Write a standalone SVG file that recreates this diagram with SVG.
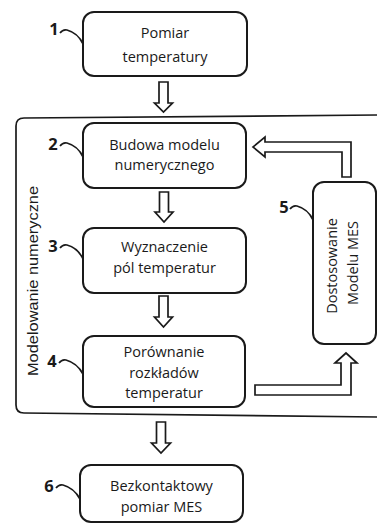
<svg xmlns="http://www.w3.org/2000/svg" width="377" height="524" viewBox="0 0 377 524">
<style>
.box{fill:#fff;stroke:#1a1a1a;stroke-width:2}
.t{font-family:"Open Sans","Noto Sans",sans-serif;font-size:14.5px;fill:#1a1a1a;text-anchor:middle}
.n{font-family:"Open Sans","Noto Sans",sans-serif;font-size:16.5px;font-weight:bold;fill:#1a1a1a;text-anchor:middle}
.hook{fill:none;stroke:#1a1a1a;stroke-width:1.7}
.arr{fill:#fff;stroke:#1a1a1a;stroke-width:1.7;stroke-linejoin:miter}
.frame{fill:none;stroke:#1a1a1a;stroke-width:1.7}
.v{font-family:"Liberation Sans",Arial,sans-serif;font-size:14px;fill:#1a1a1a;text-anchor:middle}
</style>
<rect width="377" height="524" fill="#fff"/>
<g id="frame">
<path class="frame" d="M377,115 L24,118 Q16,118 16,126 L16,405 Q16,413 24,413 L377,417"/>
<text class="v" transform="translate(37.5,281) rotate(-90)" textLength="190" lengthAdjust="spacingAndGlyphs">Modelowanie numeryczne</text>
</g>
<g id="connectors">
<polygon class="arr" points="159,82 168,82 168,103 172.5,103 163.5,112 154.5,103 159,103"/>
<polygon class="arr" points="159.5,192 168.5,192 168.5,212 173,212 164,222 155,212 159.5,212"/>
<polygon class="arr" points="159,296 168,296 168,317 172.5,317 163.5,327 154.5,317 159,317"/>
<polygon class="arr" points="156.5,422 165.5,422 165.5,443 170.5,443 161,453 151.5,443 156.5,443"/>
<polygon class="arr" points="255,385 341,385 341,363 335,363 346,353 357,363 351,363 351,395 255,395"/>
<polygon class="arr" points="351,177 342,177 342,152 265,152 265,157 253,147 265,137 265,142 351,142"/>
</g>
<g id="node1">
<rect class="box" x="83" y="12" width="164" height="64" rx="11"/>
<text class="t" x="165" y="38">Pomiar</text>
<text class="t" x="165" y="62">temperatury</text>
<text class="n" x="54" y="35">1</text>
<path class="hook" d="M60,33 Q63,29 67,30 Q78,33 83,44"/>
</g>
<g id="node2">
<rect class="box" x="83" y="123" width="163" height="65" rx="11"/>
<text class="t" x="164.5" y="150">Budowa modelu</text>
<text class="t" x="164.5" y="170">numerycznego</text>
<text class="n" x="53" y="150">2</text>
<path class="hook" d="M60,146 Q63,142 67,143 Q78,146 83,157"/>
</g>
<g id="node3">
<rect class="box" x="83" y="228" width="163" height="65" rx="11"/>
<text class="t" x="164.5" y="252">Wyznaczenie</text>
<text class="t" x="164.5" y="273">pól temperatur</text>
<text class="n" x="53" y="252">3</text>
<path class="hook" d="M60,248 Q63,244 67,245 Q78,248 83,259"/>
</g>
<g id="node4">
<rect class="box" x="83" y="336" width="162" height="71" rx="11"/>
<text class="t" x="164" y="357">Porównanie</text>
<text class="t" x="164" y="378">rozkładów</text>
<text class="t" x="164" y="398">temperatur</text>
<text class="n" x="52" y="367">4</text>
<path class="hook" d="M59,363 Q62,359 66,360 Q77,363 83,374"/>
</g>
<g id="node5">
<rect class="box" x="313" y="182" width="63" height="162" rx="11"/>
<text class="t" transform="translate(337,266) rotate(-90)">Dostosowanie</text>
<text class="t" transform="translate(358,263) rotate(-90)">Modelu MES</text>
<text class="n" x="284" y="213">5</text>
<path class="hook" d="M290,209 Q293,205 297,206 Q308,209 313,220"/>
</g>
<g id="node6">
<rect class="box" x="80" y="465" width="163" height="57" rx="11"/>
<text class="t" x="161.5" y="491">Bezkontaktowy</text>
<text class="t" x="161.5" y="512">pomiar MES</text>
<text class="n" x="49" y="492">6</text>
<path class="hook" d="M56,488 Q59,484 63,485 Q74,488 80,499"/>
</g>
</svg>
